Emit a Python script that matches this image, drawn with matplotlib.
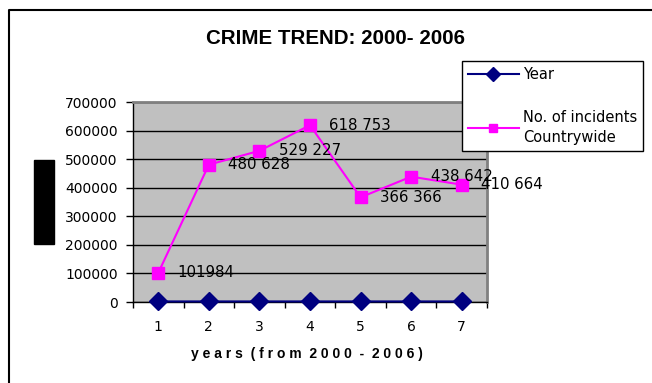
import numpy as np
import matplotlib
matplotlib.use('Agg')
import matplotlib.pyplot as plt
from matplotlib.patches import Rectangle
from matplotlib.lines import Line2D

# data
periods = [1, 2, 3, 4, 5, 6, 7]
years = [2000, 2001, 2002, 2003, 2004, 2005, 2006]
incidents = [101984, 480628, 529227, 618753, 366366, 438642, 410664]
incident_labels = ['101984', '480 628', '529 227', '618 753',
                   '366 366', '438 642', '410 664']
y_ticks = [0, 100000, 200000, 300000, 400000, 500000, 600000, 700000]

W, H = 652, 383
fig = plt.figure(figsize=(W / 100, H / 100), dpi=100)

# plot area in pixel positions of the reference
left, right, top, bottom = 133, 487, 102, 302
ax = fig.add_axes([left / W, 1 - bottom / H, (right - left) / W, (bottom - top) / H])
ax.set_facecolor('#c0c0c0')

ax.plot(periods, years, color='#000080', lw=1.5, marker='D', ms=9,
        label='Year', clip_on=False, zorder=4)
ax.plot(periods, incidents, color='#ff00ff', lw=1.5, marker='s', ms=8,
        label='No. of incidents\nCountrywide', clip_on=False, zorder=3)

for xp, yv, lab in zip(periods, incidents, incident_labels):
    ax.annotate(lab, (xp, yv), xytext=(14, 0), textcoords='offset points',
                va='center', ha='left', fontsize=10.8, family='DejaVu Sans',
                annotation_clip=False, zorder=5)

ax.set_xlim(0.5, 7.5)
ax.set_ylim(0, 700000)
ax.set_yticks(y_ticks)
ax.set_yticklabels([str(v) for v in y_ticks])
ax.set_xticks(periods)
ax.set_xticks(np.arange(0.5, 8, 1), minor=True)
ax.tick_params(axis='x', which='major', length=0, pad=13, labelsize=10)
ax.tick_params(axis='x', which='minor', length=4, width=1, direction='out')
ax.tick_params(axis='y', length=5, width=1, direction='out', pad=6, labelsize=10)
for t in ax.get_xticklabels() + ax.get_yticklabels():
    t.set_family('DejaVu Sans')

ax.grid(axis='y', color='black', lw=1)
ax.set_axisbelow(True)
for s in ['left', 'bottom']:
    ax.spines[s].set_color('black')
    ax.spines[s].set_linewidth(1)
for s in ['top', 'right']:
    ax.spines[s].set_color('#808080')
    ax.spines[s].set_linewidth(2)

# title and letter-spaced axis title
fig.text(335 / W, 1 - 38 / H, 'CRIME TREND: 2000- 2006', ha='center', va='center',
         fontsize=14.8, fontweight='bold', family='Liberation Sans')
xlab = '  '.join(' '.join(w) for w in 'years (from 2000 - 2006)'.split(' '))
fig.text(307 / W, 1 - 354 / H, xlab, ha='center', va='center',
         fontsize=10, fontweight='bold', family='Liberation Sans')

# black block where the y axis title sits
fig.patches.append(Rectangle((34 / W, 1 - 244 / H), 20 / W, 84 / H,
                             transform=fig.transFigure, color='black'))

# chart border (top and left visible)
fig.lines.append(Line2D([9 / W, 9 / W, 1.0], [0.0, 1 - 10 / H, 1 - 10 / H],
                        transform=fig.transFigure, color='black', lw=1.5))

leg = fig.legend(loc='upper left', bbox_to_anchor=(462 / W, 1 - 61 / H),
                 borderaxespad=0, fancybox=False, edgecolor='black',
                 framealpha=1, labelspacing=1.9,
                 handlelength=3.5, handletextpad=0.3, borderpad=0.4,
                 numpoints=1, markerscale=0.75, prop={'family': 'DejaVu Sans', 'size': 10.5})
leg.get_frame().set_linewidth(1)
for t in leg.get_texts():
    t.set_linespacing(1.45)

fig.savefig('out.png', dpi=100, facecolor='white')
